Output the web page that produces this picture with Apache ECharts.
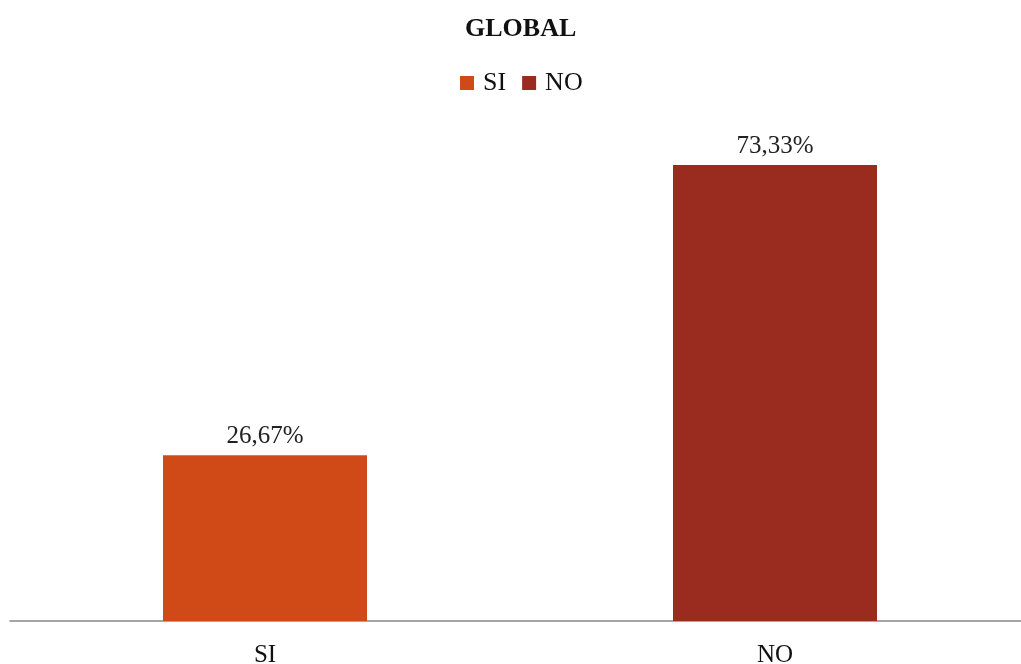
<!DOCTYPE html>
<html>
<head>
<meta charset="utf-8">
<script src="https://cdn.jsdelivr.net/npm/echarts@6/dist/echarts.min.js"></script>
<style>html,body{margin:0;padding:0;background:#fff}#c{width:1021px;height:664px}</style>
</head>
<body>
<div id="c"></div>
<script>
const categories = ['SI', 'NO'];
const siValues = [26.67, null];
const noValues = [null, 73.33];
const seriesNames = ['SI', 'NO'];
const colors = ['#d04a17', '#9a2b1f'];

const chart = echarts.init(document.getElementById('c'));
const fmt = p => p.value == null ? '' : p.value.toFixed(2).replace('.', ',') + '%';
const serif = '"Liberation Serif", "DejaVu Serif", serif';
chart.setOption({
  animation: false,
  title: {
    text: 'GLOBAL', left: 460, top: 11,
    textStyle: { fontFamily: serif, fontWeight: 'bold', fontSize: 26, color: '#111' }
  },
  legend: {
    data: seriesNames, top: 65, left: 455, itemWidth: 14, itemHeight: 14, itemGap: 16,
    icon: 'rect',
    textStyle: { fontFamily: serif, fontSize: 26, color: '#111', padding: [0, 0, 0, 4] }
  },
  grid: { left: 10, width: 1020, top: 123.5, bottom: 43, outerBoundsMode: 'none', containLabel: false },
  xAxis: {
    type: 'category', data: categories,
    axisLine: { lineStyle: { color: '#888', width: 1.5 } },
    axisTick: { show: false },
    axisLabel: { fontFamily: serif, fontSize: 25, color: '#111', margin: 22 }
  },
  yAxis: { type: 'value', min: 0, max: 80, show: false, splitLine: { show: false } },
  series: [
    { name: seriesNames[0], type: 'bar', data: siValues, stack: 'a', barWidth: '40%',
      itemStyle: { color: colors[0] },
      label: { show: true, position: 'top', distance: 6, formatter: fmt, fontFamily: serif, fontSize: 25, color: '#222' } },
    { name: seriesNames[1], type: 'bar', data: noValues, stack: 'a', barWidth: '40%',
      itemStyle: { color: colors[1] },
      label: { show: true, position: 'top', distance: 6, formatter: fmt, fontFamily: serif, fontSize: 25, color: '#222' } }
  ]
});
</script>
</body>
</html>
